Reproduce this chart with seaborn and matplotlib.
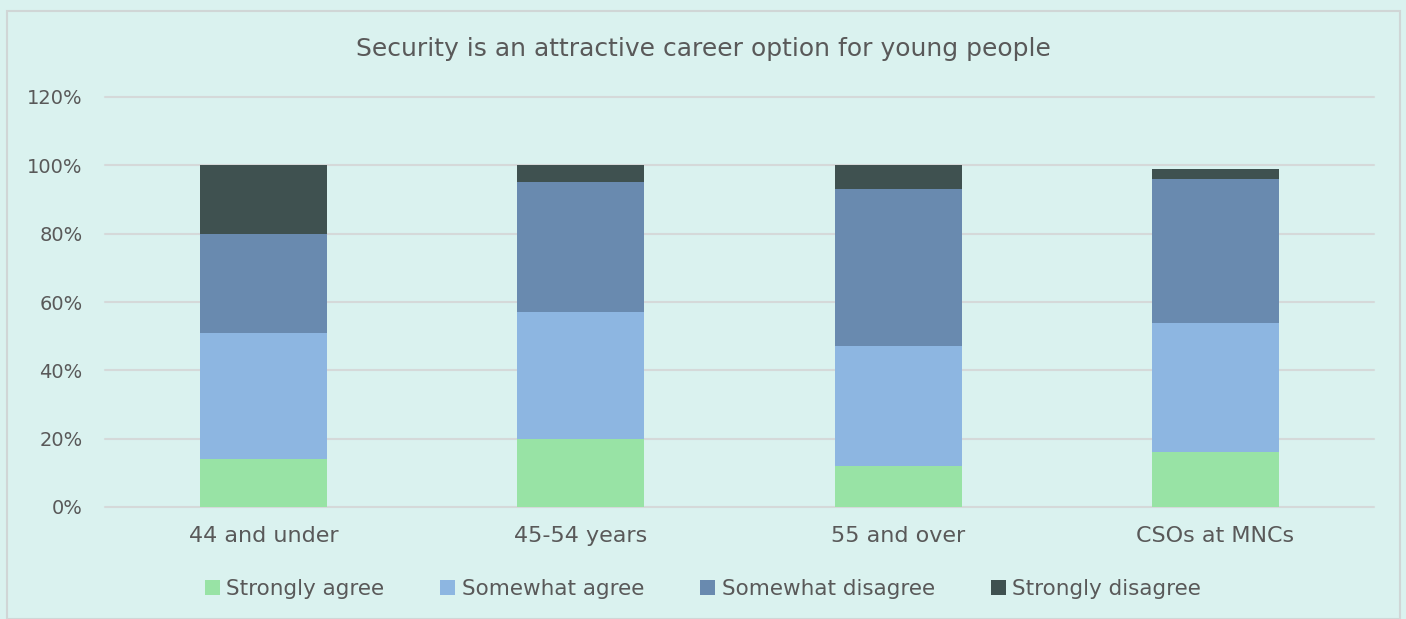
import numpy as np
import pandas as pd
import seaborn as sns
import matplotlib
matplotlib.use("Agg")
import matplotlib.pyplot as plt
from matplotlib.patches import Rectangle, Patch

categories = ["44 and under", "45-54 years", "55 and over", "CSOs at MNCs"]
series_names = ["Strongly agree", "Somewhat agree", "Somewhat disagree", "Strongly disagree"]
strongly_agree = [14, 20, 12, 16]
somewhat_agree = [37, 37, 35, 38]
somewhat_disagree = [29, 38, 46, 42]
strongly_disagree = [20, 5, 7, 3]
colors = ["#98E3A5", "#8DB6E1", "#698AAF", "#3F5150"]
yticks = [0, 20, 40, 60, 80, 100, 120]

bg = "#DAF2EF"
text_color = "#595959"

sns.set_theme(style="white")
plt.rcParams["font.family"] = ["DejaVu Sans"]

values = [strongly_agree, somewhat_agree, somewhat_disagree, strongly_disagree]
cum = np.cumsum(np.array(values, dtype=float), axis=0)

fig = plt.figure(figsize=(14.06, 6.19), dpi=100, facecolor=bg)
ax = fig.add_axes([105/1406, (619-507)/619, (1374-105)/1406, (507-97)/619])
ax.set_facecolor(bg)

for i in range(len(series_names) - 1, -1, -1):
    df = pd.DataFrame({"cat": categories, "val": cum[i]})
    sns.barplot(data=df, x="cat", y="val", color=colors[i], width=0.4,
                saturation=1, ax=ax, zorder=3, linewidth=0)

ax.set_ylim(0, 120)
ax.set_xlim(-0.5, 3.5)
ax.set_yticks(yticks)
ax.set_yticklabels([f"{t}%" for t in yticks], color=text_color, fontsize=14)
ax.tick_params(axis="x", labelsize=16, labelcolor=text_color, length=0, pad=14)
ax.tick_params(axis="y", length=0, pad=16)
ax.set_xlabel("")
ax.set_ylabel("")
ax.grid(axis="y", color="#D5D9D9", linewidth=1.5, zorder=0)
for gl in ax.get_ygridlines():
    gl.set_clip_on(False)
ax.set_axisbelow(True)
for s in ax.spines.values():
    s.set_visible(False)

fig.text(0.5, 1 - 49/619, "Security is an attractive career option for young people",
         ha="center", va="center", fontsize=18, color=text_color)

handles = [Patch(facecolor=c, edgecolor="none") for c in colors]
fig.legend(handles, series_names, loc="center", bbox_to_anchor=(0.5, 1 - 589/619),
           ncol=4, frameon=False, fontsize=15.5, labelcolor=text_color,
           handlelength=0.7, handleheight=0.7, handletextpad=0.3, columnspacing=2.6)

fig.patches.append(Rectangle((7/1406, 0), (1400-7)/1406, (619-11)/619,
                             transform=fig.transFigure, fill=False,
                             edgecolor="#D0D6D6", linewidth=1.5))

fig.savefig("out.png", dpi=100, facecolor=bg)
